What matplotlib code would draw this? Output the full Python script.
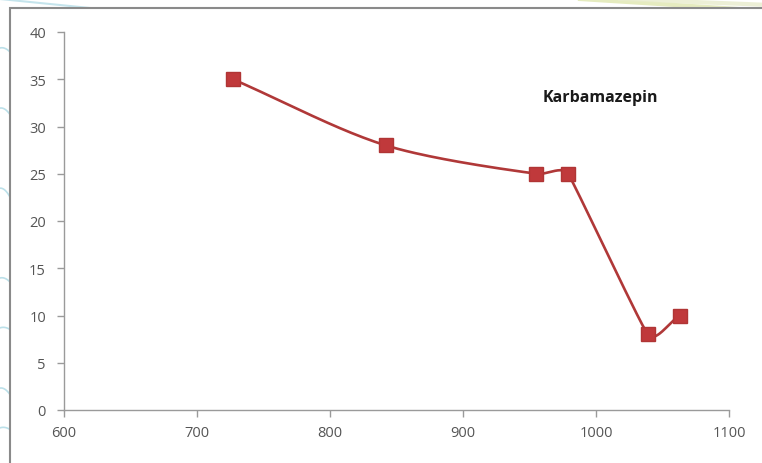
import numpy as np
import matplotlib
matplotlib.use("Agg")
import matplotlib.pyplot as plt
from matplotlib.patches import Rectangle

# Measured data
wavenumber = [727, 842, 955, 979, 1039, 1063]
intensity = [35, 28, 25, 25, 8, 10]
x_ticks = [600, 700, 800, 900, 1000, 1100]
y_ticks = [0, 5, 10, 15, 20, 25, 30, 35, 40]
series_label = "Karbamazepin"

XLIM = (600, 1100)
YLIM = (0, 40)
SX = 665 / (XLIM[1] - XLIM[0])   # screen units per data unit
SY = 378 / (YLIM[1] - YLIM[0])


def smooth_line(xs, ys, n=40):
    """Cubic Bezier smoothing in screen space; handle length limited by the
    shorter neighbouring segment so close points don't overshoot."""
    p = np.column_stack([(np.asarray(xs, float) - XLIM[0]) * SX,
                         (np.asarray(ys, float) - YLIM[0]) * SY])
    m = len(p)
    seglen = np.hypot(*np.diff(p, axis=0).T)
    tang = np.zeros_like(p)
    hlen = np.zeros(m)
    for i in range(m):
        a = p[max(i - 1, 0)]
        b = p[min(i + 1, m - 1)]
        d = b - a
        tang[i] = d / np.hypot(*d)
        neigh = [seglen[j] for j in (i - 1, i) if 0 <= j < m - 1]
        hlen[i] = min(neigh) / 3
    out = []
    t = np.linspace(0, 1, n)[:, None]
    for i in range(m - 1):
        L = seglen[i] / 3
        c1 = p[i] + tang[i] * min(hlen[i], L)
        c2 = p[i + 1] - tang[i + 1] * min(hlen[i + 1], L)
        seg = ((1 - t) ** 3) * p[i] + 3 * ((1 - t) ** 2) * t * c1 + 3 * (1 - t) * t ** 2 * c2 + t ** 3 * p[i + 1]
        out.append(seg)
    c = np.vstack(out)
    return c[:, 0] / SX + XLIM[0], c[:, 1] / SY + YLIM[0]


plt.rcParams['font.family'] = ['Open Sans', 'DejaVu Sans']

fig = plt.figure(figsize=(7.62, 4.64), dpi=100)
fig.patch.set_facecolor("white")

# decorative slide background swooshes
bg = fig.add_axes([0, 0, 1, 1], zorder=-5)
bg.set_xlim(0, 762)
bg.set_ylim(464, 0)
bg.axis("off")
for y0, amp in [(60, 40), (120, 50), (200, 60), (290, 40), (340, 30), (400, 50), (440, 30)]:
    t = np.linspace(0, 1, 50)
    bg.plot(-20 + 35 * t, y0 + amp * (t - 0.5) ** 2 * 2 - 20 * t, color="#9fd3e0", lw=1.2, alpha=0.7)
t = np.linspace(0, 1, 50)
bg.plot(0 + 200 * t, 0 + 20 * t, color="#9fd3e0", lw=1.5, alpha=0.6)
bg.plot(580 + 190 * t, 0 + 12 * t, color="#dfe6b0", lw=3, alpha=0.8)
bg.plot(620 + 150 * t, 0 + 6 * t, color="#e8eccc", lw=3, alpha=0.8)
# chart frame
bg.add_patch(Rectangle((10, 9), 800, 500, facecolor="white", edgecolor="#8a8a8a", lw=1.5, zorder=2))

ax = fig.add_axes([64 / 762, 1 - 411 / 464, (729 - 64) / 762, (411 - 33) / 464])
ax.set_facecolor("none")

cx, cy = smooth_line(wavenumber, intensity)
ax.plot(cx, cy, color="#b03838", lw=1.9, solid_capstyle="round", zorder=3)
ax.plot(wavenumber, intensity, linestyle="none", marker="s", markersize=10,
        markerfacecolor="#c0393b", markeredgecolor="#b03535", zorder=4)

ax.set_xlim(*XLIM)
ax.set_ylim(*YLIM)
ax.set_xticks(x_ticks)
ax.set_yticks(y_ticks)
for s in ("top", "right"):
    ax.spines[s].set_visible(False)
for s in ("left", "bottom"):
    ax.spines[s].set_color("#9a9a9a")
    ax.spines[s].set_linewidth(1.0)
ax.tick_params(direction="out", length=5, width=1, color="#9a9a9a",
               labelcolor="#555555", labelsize=10.5)
ax.tick_params(axis="x", pad=6)
ax.tick_params(axis="y", pad=8)

ax.text(960, 33.1, series_label, fontsize=11.5, fontweight="bold", color="#1a1a1a",
        ha="left", va="center")

fig.savefig("out.png", dpi=100)
